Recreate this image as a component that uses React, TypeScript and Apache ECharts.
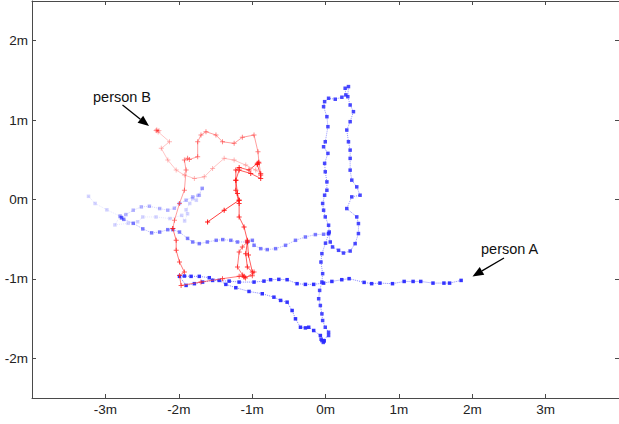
import React, { useEffect, useRef } from "react";
import * as echarts from "echarts";

// ---- tick labels ----
const xTickValues = [-3, -2, -1, 0, 1, 2, 3];
const yTickValues = [-2, -1, 0, 1, 2];

// ---- person A (blue), oldest -> newest ----
const blueSeg1 = [
  [-3.23, 0.04], [-3.14, -0.05], [-2.98, -0.13], [-2.8, -0.21], [-2.87, -0.32], [-2.69, -0.3],
  [-2.56, -0.28], [-2.49, -0.22], [-2.31, -0.22], [-2.12, -0.24], [-1.96, -0.2], [-1.92, -0.27],
  [-1.88, -0.18], [-1.9, -0.13], [-1.85, -0.05], [-1.81, 0.01], [-1.76, -0.01], [-1.74, 0.05], [-1.68, 0.14],
];
const blueSeg2 = [
  [-1.68, 0.14], [-1.72, 0.054], [-1.81, 0.033], [-1.9, -0.009], [-1.99, -0.05], [-2.06, -0.11],
  [-2.15, -0.135], [-2.26, -0.114], [-2.4, -0.085], [-2.51, -0.093], [-2.62, -0.135], [-2.72, -0.19],
  [-2.8, -0.21], [-2.78, -0.23],
];
const blueSeg3 = [
  [-2.78, -0.23], [-2.75, -0.25], [-2.62, -0.3], [-2.49, -0.37], [-2.37, -0.42], [-2.26, -0.41],
  [-2.15, -0.38], [-2.08, -0.38], [-1.99, -0.41], [-1.88, -0.49], [-1.81, -0.535], [-1.72, -0.556],
  [-1.61, -0.535], [-1.49, -0.514], [-1.4, -0.505], [-1.29, -0.514], [-1.2, -0.535], [-1.065, -0.535],
  [-0.997, -0.514], [-0.974, -0.577], [-0.883, -0.619], [-0.794, -0.631], [-0.68, -0.619],
  [-0.545, -0.577], [-0.409, -0.514], [-0.274, -0.472], [-0.138, -0.442], [-0.026, -0.438], [0.042, -0.429],
];
const blueSeg4 = [
  [0.042, -0.429], [0.065, -0.535], [0.096, -0.598], [0.178, -0.64], [0.245, -0.674], [0.336, -0.649],
  [0.404, -0.556], [0.449, -0.429], [0.449, -0.303], [0.426, -0.219], [0.29, -0.114], [0.358, 0.033],
  [0.471, 0.054], [0.426, 0.159], [0.358, 0.244], [0.336, 0.37], [0.336, 0.518], [0.336, 0.622],
  [0.313, 0.727], [0.29, 0.875], [0.336, 0.98], [0.381, 1.106], [0.336, 1.19], [0.304, 1.295],
  [0.313, 1.422], [0.268, 1.401], [0.277, 1.317], [0.223, 1.288], [0.133, 1.263], [0.042, 1.275],
  [-0.012, 1.232], [-0.026, 1.169], [0.019, 1.043], [0.033, 0.917], [-0.003, 0.727], [-0.026, 0.664],
  [0.033, 0.581], [-0.012, 0.455], [-0.003, 0.349], [0.019, 0.222], [0.019, 0.117], [-0.012, 0.054],
  [-0.039, -0.05], [-0.026, -0.135], [-0.003, -0.219], [0.042, -0.324], [0.051, -0.409], [0.0, -0.55],
  [-0.049, -0.682], [-0.062, -0.788], [-0.039, -0.934], [-0.049, -1.04], [-0.08, -1.145], [-0.093, -1.25],
  [-0.07, -1.335], [-0.049, -1.44], [-0.039, -1.524], [-0.003, -1.609], [0.042, -1.672], [0.042, -1.713],
  [-0.049, -1.777], [-0.03, -1.8], [-0.06, -1.76], [-0.02, -1.78],
];
const blueSeg5 = [
  [-0.02, -1.78], [-0.07, -1.713], [-0.161, -1.65], [-0.229, -1.609], [-0.274, -1.617], [-0.341, -1.609],
  [-0.409, -1.503], [-0.455, -1.398], [-0.523, -1.293], [-0.612, -1.271], [-0.703, -1.23], [-0.862, -1.187],
  [-1.042, -1.158], [-1.222, -1.111], [-1.358, -1.069], [-1.449, -1.019], [-1.584, -0.985], [-1.72, -0.968],
  [-1.832, -0.968], [-1.923, -0.964], [-1.99, -0.968], [-1.9, -1.082], [-1.787, -1.06], [-1.675, -1.04],
  [-1.539, -1.019], [-1.313, -1.028], [-1.177, -1.04], [-0.974, -1.04], [-0.839, -1.028], [-0.748, -1.01],
  [-0.636, -1.006], [-0.523, -1.01], [-0.388, -1.06], [-0.274, -1.069], [-0.161, -1.069], [-0.026, -1.053],
  [0.087, -1.032], [0.222, -1.01], [0.322, -0.997], [0.526, -1.044], [0.629, -1.06], [0.742, -1.053],
  [0.913, -1.06], [1.072, -1.032], [1.194, -1.032], [1.298, -1.032], [1.465, -1.053], [1.614, -1.053],
  [1.691, -1.053], [1.848, -1.019],
];

// ---- person B (red), oldest -> newest ----
const redSeg1 = [
  [-2.31, 0.87], [-2.28, 0.85], [-2.3, 0.88], [-2.27, 0.87], [-2.298, 0.866], [-2.126, 0.727],
  [-2.238, 0.644], [-2.149, 0.496], [-2.035, 0.37], [-1.923, 0.307], [-1.787, 0.265], [-1.652, 0.285],
  [-1.539, 0.391], [-1.381, 0.518], [-1.245, 0.496], [-1.087, 0.433], [-0.951, 0.37], [-0.883, 0.328],
];
const redSeg2 = [
  [-0.883, 0.328], [-0.906, 0.455], [-0.92, 0.6], [-0.974, 0.812], [-1.133, 0.783], [-1.245, 0.707],
  [-1.404, 0.727], [-1.493, 0.812], [-1.629, 0.854], [-1.697, 0.812], [-1.742, 0.727], [-1.742, 0.538],
  [-1.855, 0.505], [-1.88, 0.52], [-1.923, 0.496], [-1.9, 0.37], [-1.923, 0.118], [-1.99, -0.05],
  [-2.058, -0.261], [-2.081, -0.366],
];
const redSeg3 = [
  [-2.081, -0.366], [-2.035, -0.514], [-2.035, -0.64], [-1.99, -0.788], [-1.923, -0.914], [-1.99, -0.956],
  [-1.968, -1.082], [-1.697, -1.04], [-1.404, -0.997], [-1.177, -0.968], [-1.11, -0.968], [-1.13, -0.95],
  [-1.09, -0.99], [-0.974, -0.914], [-0.997, -0.96], [-1.11, -0.98], [-1.2, -0.85], [-1.177, -0.66],
  [-1.133, -0.598], [-1.065, -0.535],
];
const redSeg4 = [
  [-1.065, -0.535], [-1.087, -0.682], [-1.065, -0.85], [-0.997, -0.914], [-1.05, -0.7], [-1.065, -0.514],
  [-1.11, -0.346], [-1.177, -0.22], [-1.177, -0.05], [-1.222, 0.118], [-1.222, 0.244], [-1.222, 0.37],
  [-1.177, 0.404], [-1.042, 0.37], [-0.929, 0.455], [-0.91, 0.47], [-0.93, 0.44], [-0.883, 0.307],
  [-0.883, 0.265], [-1.019, 0.328], [-1.177, 0.37], [-1.222, 0.244], [-1.2, 0.076], [-1.177, -0.009],
];
const redSeg5 = [[-1.177, -0.009], [-1.381, -0.135], [-1.607, -0.283]];

const blueSegments = [blueSeg1, blueSeg2, blueSeg3, blueSeg4, blueSeg5];
const redSegments = [redSeg1, redSeg2, redSeg3, redSeg4, redSeg5];
const blueOpacity = [0.2, 0.35, 0.6, 0.85, 0.95];
const redOpacity = [0.3, 0.5, 0.7, 0.85, 1];

const PLUS = "path://M2,0H3V2H5V3H3V5H2V3H0V2H2Z";

function arrow(x1: number, y1: number, x2: number, y2: number) {
  const ang = Math.atan2(y2 - y1, x2 - x1);
  const L = 11, W = 4.5;
  const bx = x2 - L * Math.cos(ang), by = y2 - L * Math.sin(ang);
  const px = -Math.sin(ang) * W, py = Math.cos(ang) * W;
  return [
    { type: "line", shape: { x1, y1, x2: bx, y2: by }, style: { stroke: "#000", lineWidth: 1.3 } },
    {
      type: "polygon",
      shape: { points: [[x2, y2], [bx + px, by + py], [bx - px, by - py]] },
      style: { fill: "#000" },
    },
  ];
}

export default function App() {
  const ref = useRef<HTMLDivElement>(null);
  useEffect(() => {
    const chart = echarts.init(ref.current!, null, { renderer: "svg" });
    const axisColor = "#4a4a4a";
    const font = "Liberation Sans, Arial, sans-serif";
    const mkX = (pos: string, labels: boolean) => ({
      type: "value",
      position: pos,
      min: -4,
      max: 4,
      interval: 1,
      axisLine: { show: true, onZero: false, lineStyle: { color: axisColor, width: 1 } },
      axisTick: { show: true, inside: true, length: 4, customValues: xTickValues, lineStyle: { color: axisColor } },
      axisLabel: {
        show: labels,
        customValues: xTickValues,
        formatter: (v: number) => `${v}m`,
        fontSize: 13.5,
        fontFamily: font,
        color: "#222",
        margin: 4,
      },
      splitLine: { show: false },
    });
    const mkY = (pos: string, labels: boolean) => ({
      type: "value",
      position: pos,
      min: -2.5,
      max: 2.5,
      interval: 0.5,
      axisLine: { show: true, onZero: false, lineStyle: { color: axisColor, width: 1 } },
      axisTick: { show: true, inside: true, length: 4, customValues: yTickValues, lineStyle: { color: axisColor } },
      axisLabel: {
        show: labels,
        customValues: yTickValues,
        formatter: (v: number) => `${v}m`,
        fontSize: 13.5,
        fontFamily: font,
        color: "#222",
        margin: 4,
      },
      splitLine: { show: false },
    });

    const series: any[] = [];
    blueSegments.forEach((seg, i) => {
      series.push({
        type: "line",
        data: seg,
        symbol: "rect",
        symbolSize: 3.5,
        showSymbol: true,
        z: 2,
        lineStyle: { color: "#8080ff", width: 1, type: "dotted", opacity: blueOpacity[i] },
        itemStyle: { color: "#2a2aff", opacity: blueOpacity[i] },
      });
    });
    redSegments.forEach((seg, i) => {
      series.push({
        type: "line",
        data: seg,
        symbol: PLUS,
        symbolSize: 5,
        showSymbol: true,
        z: 3,
        lineStyle: { color: "#ff4040", width: 1, opacity: redOpacity[i] },
        itemStyle: { color: "#ff1010", opacity: redOpacity[i] },
      });
    });

    chart.setOption({
      animation: false,
      backgroundColor: "#fff",
      grid: { left: 32, top: 1, width: 590, height: 397, containLabel: false },
      xAxis: [mkX("bottom", true), mkX("top", false)],
      yAxis: [mkY("left", true), mkY("right", false)],
      series,
      graphic: [
        {
          type: "text",
          x: 93,
          y: 89,
          style: { text: "person B", fontSize: 14.5, fontFamily: font, fill: "#111" },
        },
        {
          type: "text",
          x: 481,
          y: 241,
          style: { text: "person A", fontSize: 14.5, fontFamily: font, fill: "#111" },
        },
        ...arrow(122.5, 105, 149, 126),
        ...arrow(504, 258, 472.5, 276.5),
      ],
    });
    return () => chart.dispose();
  }, []);
  return (
    <div
      ref={ref}
      style={{ position: "absolute", left: 0, top: 0, width: 619, height: 424, background: "#fff" }}
    />
  );
}
